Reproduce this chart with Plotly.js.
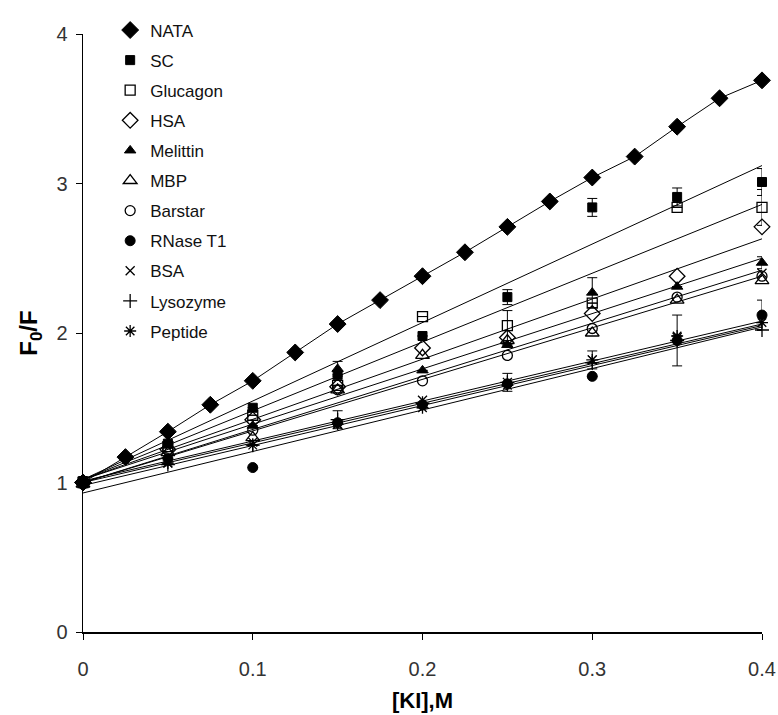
<!DOCTYPE html>
<html><head><meta charset="utf-8">
<script src="https://cdn.plot.ly/plotly-3.0.1.min.js"></script>
<style>body{margin:0;background:#fff}#c{width:778px;height:715px}</style>
</head><body><div id="c"></div>
<script>
// NATA data (every 0.025 M)
const nataX = [0,0.025,0.05,0.075,0.1,0.125,0.15,0.175,0.2,0.225,0.25,0.275,0.3,0.325,0.35,0.375,0.4];
const nataY = [1.0,1.17,1.34,1.52,1.68,1.87,2.06,2.22,2.38,2.54,2.71,2.88,3.04,3.18,3.38,3.57,3.69];

// Other series (every 0.05 M)
const kiX = [0,0.05,0.1,0.15,0.2,0.25,0.3,0.35,0.4];
const scY       = [1.01,1.26,1.50,1.72,1.98,2.24,2.84,2.91,3.01];
const scErr     = [0,0,0,0,0,0.05,0.06,0.06,0.09];
const glucY     = [1.00,1.24,1.45,1.65,2.11,2.05,2.20,2.84,2.84];
const glucErr   = [0,0,0,0,0,0.10,0,0,0.12];
const hsaY      = [1.00,1.22,1.42,1.64,1.90,1.97,2.13,2.38,2.71];
const melY      = [1.00,1.25,1.38,1.76,1.75,1.92,2.27,2.31,2.47];
const melErr    = [0,0,0,0.05,0,0,0.10,0,0.04];
const mbpY      = [0.99,1.20,1.30,1.62,1.85,1.95,2.00,2.22,2.35];
const barY      = [1.00,1.22,1.35,1.62,1.68,1.85,2.03,2.24,2.38];
const rnY       = [0.99,1.16,1.10,1.40,1.52,1.66,1.71,1.95,2.12];
const rnErr     = [0,0,0,0,0,0,0,0,0.10];
const bsaY      = [1.00,1.13,1.27,1.39,1.55,1.67,1.82,1.97,2.40];
const lysY      = [1.00,1.12,1.25,1.42,1.53,1.67,1.80,1.95,2.02];
const lysErr    = [0,0,0,0.06,0,0.06,0,0.17,0];
const pepY      = [0.99,1.13,1.25,1.39,1.50,1.65,1.82,1.98,2.07];
const pepErr    = [0,0,0,0,0,0,0.06,0,0];

// Fitted lines: value at [KI]=0 and [KI]=0.4
const fitX = [0, 0.4];
const scFit   = [1.02, 3.12];
const glucFit = [1.02, 2.86];
const hsaFit  = [1.02, 2.63];
const melFit  = [1.02, 2.50];
const barFit  = [1.00, 2.42];
const mbpFit  = [1.00, 2.38];
const rnFit   = [0.93, 2.04];
const bsaFit  = [1.01, 2.08];
const lysFit  = [1.00, 2.06];
const pepFit  = [0.98, 2.05];

const names = ['NATA','SC','Glucagon','HSA','Melittin','MBP','Barstar','RNase T1','BSA','Lysozyme','Peptide'];

const lineStyle = {color:'#000', width:1};
const traces = [];
function fit(y){ traces.push({x:fitX, y:y, mode:'lines', line:lineStyle, showlegend:false, hoverinfo:'skip'}); }
[scFit,glucFit,hsaFit,melFit,barFit,mbpFit,rnFit,bsaFit,lysFit,pepFit].forEach(fit);
traces.push({x:nataX, y:nataY, mode:'lines', line:lineStyle, showlegend:false});

function pts(name, x, y, sym, size, err, lw){
  const t = {x:x, y:y, name:name, mode:'markers', legendgroup:name, cliponaxis:false,
    marker:{symbol:sym, size:size, color:'#000', line:{color:'#000', width:lw||1}}};
  if (err) t.error_y = {type:'data', array:err, visible:true, color:'#000', thickness:1, width:5};
  traces.push(t);
}
pts(names[0], nataX, nataY, 'diamond', 13);
pts(names[1], kiX, scY, 'square', 9, scErr);
pts(names[2], kiX, glucY, 'square-open', 10, glucErr, 1.3);
pts(names[3], kiX, hsaY, 'diamond-open', 12, null, 1.3);
pts(names[4], kiX, melY, 'triangle-up', 10, melErr);
pts(names[5], kiX, mbpY, 'triangle-up-open', 12, null, 1.3);
pts(names[6], kiX, barY, 'circle-open', 10, null, 1.3);
pts(names[7], kiX, rnY, 'circle', 10, rnErr);
pts(names[8], kiX, bsaY, 'x-thin', 9, null, 1.3);
pts(names[9], kiX, lysY, 'cross-thin', 10, lysErr, 1.3);
pts(names[10], kiX, pepY, 'asterisk', 10, pepErr, 1.3);

const tickFont = {family:'Liberation Sans, Arial, sans-serif', size:20, color:'#333'};
const layout = {
  width:778, height:715,
  margin:{l:83, r:16, t:34, b:83},
  paper_bgcolor:'#fff', plot_bgcolor:'#fff',
  showlegend:true,
  legend:{x:0.04, y:1.036, xanchor:'left', yanchor:'top', bgcolor:'rgba(0,0,0,0)',
    font:{family:'Liberation Sans, Arial, sans-serif', size:17, color:'#111'},
    tracegroupgap:5, traceorder:'grouped', itemwidth:30},
  xaxis:{range:[0,0.4], tickvals:[0,0.1,0.2,0.3,0.4], ticktext:['0','0.1','0.2','0.3','0.4'],
    showgrid:false, zeroline:false, showline:true, linecolor:'#000', linewidth:1.5,
    ticks:'outside', ticklen:6, tickcolor:'#000', tickfont:tickFont, ticklabelstandoff:12,
    title:{text:'<b>[KI],M</b>', font:{family:'Liberation Sans, Arial, sans-serif', size:22, color:'#000'}, standoff:14}},
  yaxis:{range:[0,4], tickvals:[0,1,2,3,4],
    showgrid:false, zeroline:false, showline:true, linecolor:'#000', linewidth:1.5,
    ticks:'outside', ticklen:6, tickcolor:'#000', tickfont:tickFont, ticklabelstandoff:4,
    title:{text:'<b>F<sub>0</sub>/F</b>', font:{family:'Liberation Sans, Arial, sans-serif', size:24, color:'#000'}, standoff:12}}
};
Plotly.newPlot('c', traces, layout, {staticPlot:true});
</script></body></html>
